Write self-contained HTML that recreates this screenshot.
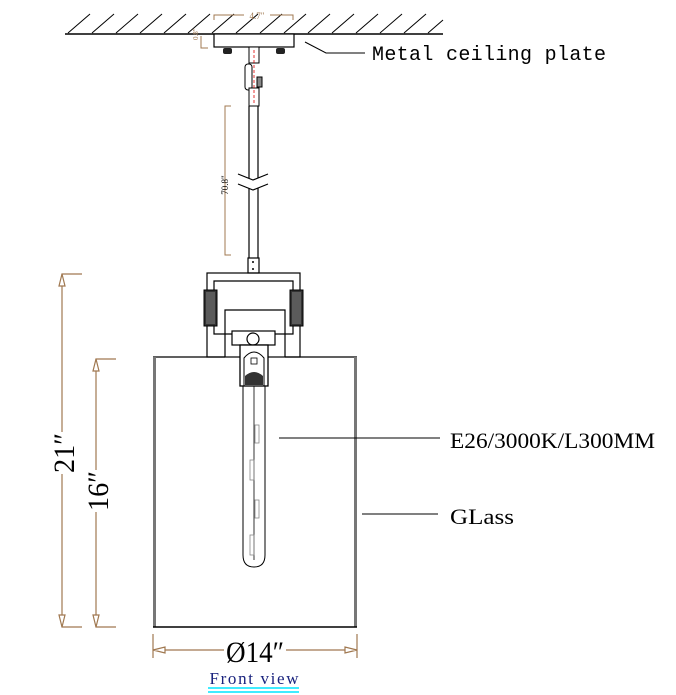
<!DOCTYPE html>
<html><head><meta charset="utf-8"><style>
html,body{margin:0;padding:0;background:#fff;width:676px;height:695px;overflow:hidden}
svg{display:block}
</style></head><body>
<svg width="676" height="695" viewBox="0 0 676 695" xmlns="http://www.w3.org/2000/svg" font-family="Liberation Serif, serif">
<line x1="65" y1="34" x2="443" y2="34" stroke="#000" stroke-width="1.5"/>
<g stroke="#000" stroke-width="1">
<line x1="68" y1="33" x2="90" y2="14"/><line x1="92" y1="33" x2="114" y2="14"/><line x1="116" y1="33" x2="138" y2="14"/>
<line x1="140" y1="33" x2="162" y2="14"/><line x1="164" y1="33" x2="186" y2="14"/><line x1="188" y1="33" x2="210" y2="14"/>
<line x1="212" y1="33" x2="234" y2="14"/><line x1="236" y1="33" x2="258" y2="14"/><line x1="260" y1="33" x2="282" y2="14"/>
<line x1="284" y1="33" x2="306" y2="14"/><line x1="308" y1="33" x2="330" y2="14"/><line x1="332" y1="33" x2="354" y2="14"/>
<line x1="356" y1="33" x2="378" y2="14"/><line x1="380" y1="33" x2="402" y2="14"/><line x1="404" y1="33" x2="426" y2="14"/>
<line x1="428" y1="33" x2="443" y2="20"/>
</g>
<g stroke="#a07850" stroke-width="1" fill="none">
<path d="M214 20 V15 H244 M270 15 H293 V20"/>
<path d="M201 36 V48 H208"/>
</g>
<text x="257" y="19" font-size="9" fill="#a07850" text-anchor="middle">4.7"</text>
<text x="198" y="40" font-size="7" fill="#a07850" transform="rotate(-90 198 40)">0.8"</text>
<rect x="214" y="34" width="80" height="13" fill="#fff" stroke="#000" stroke-width="1.2"/>
<rect x="223" y="48" width="9" height="6" rx="2" fill="#222"/>
<rect x="276" y="48" width="9" height="6" rx="2" fill="#222"/>
<path d="M305 42 L326 53 H365" stroke="#000" fill="none" stroke-width="1"/>
<text x="372" y="60" font-family="Liberation Mono, monospace" font-size="20" textLength="234" fill="#000">Metal ceiling plate</text>
<g stroke="#000" fill="#fff" stroke-width="1">
<rect x="249" y="47" width="10" height="16"/>
<rect x="245" y="64" width="7" height="26" rx="3"/>
<rect x="257" y="77" width="5" height="10" fill="#888"/>
<rect x="249" y="88" width="10" height="18"/>
</g>
<line x1="254" y1="50" x2="254" y2="104" stroke="#d00" stroke-width="0.8" stroke-dasharray="3 2"/>
<g stroke="#000" stroke-width="1.2" fill="none">
<line x1="249" y1="106" x2="249" y2="178"/><line x1="258" y1="106" x2="258" y2="178"/>
<line x1="249" y1="188" x2="249" y2="260"/><line x1="258" y1="188" x2="258" y2="260"/>
<path d="M238 174 L253 180 L268 174 M238 184 L253 190 L268 184"/>
<rect x="248" y="258" width="11" height="15" fill="#fff"/>
</g>
<circle cx="253" cy="262" r="1" fill="#000"/><circle cx="253" cy="269" r="1" fill="#000"/>
<path d="M231 106 H225 V255 H231" stroke="#a07850" fill="none"/>
<text x="228" y="185" font-size="9" fill="#000" text-anchor="middle" transform="rotate(-90 228 185)">70.8"</text>
<g stroke="#000" stroke-width="1.2" fill="none">
<rect x="207" y="273" width="93" height="84"/>
<path d="M214 290 V281 H293 V290 M214 326 V334 H232 M293 326 V334 H275"/>
<path d="M225 357 V310 H285 V357"/>
</g>
<g fill="#333" stroke="#000">
<rect x="204" y="290" width="13" height="36"/>
<rect x="290" y="290" width="13" height="36"/>
</g>
<g fill="#999"><rect x="206" y="292" width="9" height="32" opacity="0.4"/><rect x="292" y="292" width="9" height="32" opacity="0.4"/></g>
<rect x="232" y="331" width="43" height="14" fill="#fff" stroke="#000" stroke-width="1.2"/>
<circle cx="253" cy="339" r="6" fill="#fff" stroke="#000" stroke-width="1.2"/>
<path d="M153 357 H225 M285 357 H357" stroke="#000" stroke-width="1.2"/>
<rect x="153" y="357" width="3" height="270" fill="#777"/>
<rect x="354" y="357" width="3" height="270" fill="#777"/>
<line x1="153" y1="627" x2="357" y2="627" stroke="#000" stroke-width="1.5"/>
<rect x="240" y="345" width="28" height="41" fill="#fff" stroke="#000" stroke-width="1.3"/>
<path d="M244 386 V358 Q254 346 264 358 V386" fill="none" stroke="#000"/>
<rect x="251" y="358" width="6" height="6" fill="#fff" stroke="#000" stroke-width="0.8"/>
<path d="M245 385 V376 Q254 368 263 376 V385 Z" fill="#333"/>
<path d="M243 386 V555 Q243 567 254 567 Q265 567 265 555 V386" fill="none" stroke="#000" stroke-width="1"/>
<line x1="254" y1="386" x2="254" y2="560" stroke="#000" stroke-width="0.8"/>
<g stroke="#888" fill="none" stroke-width="0.8">
<rect x="255" y="425" width="4" height="18"/><rect x="250" y="460" width="4" height="20"/>
<rect x="255" y="500" width="4" height="18"/><rect x="250" y="535" width="4" height="20"/>
</g>
<line x1="279" y1="438" x2="440" y2="438" stroke="#000"/>
<text x="450" y="448" font-size="22" textLength="205" lengthAdjust="spacingAndGlyphs" fill="#000">E26/3000K/L300MM</text>
<line x1="362" y1="514" x2="438" y2="514" stroke="#000"/>
<text x="450" y="524" font-size="22" textLength="64" lengthAdjust="spacingAndGlyphs" fill="#000">GLass</text>
<g stroke="#a07850" stroke-width="1.2" fill="none">
<path d="M82 274 H62 V432 M62 474 V627 H82"/>
<path d="M116 359 H96 V470 M96 512 V627 H116"/>
<path d="M153 634 V658 M357 634 V658 M153 650 H224 M286 650 H357"/>
<path d="M62 274 L59 286 H65 Z M62 627 L59 615 H65 Z M96 359 L93 371 H99 Z M96 627 L93 615 H99 Z M153 650 L165 647 V653 Z M357 650 L345 647 V653 Z" fill="#fff"/>
</g>
<text x="74" y="453" font-size="30" text-anchor="middle" textLength="40" lengthAdjust="spacingAndGlyphs" transform="rotate(-90 74 453)">21″</text>
<text x="108" y="491" font-size="30" text-anchor="middle" textLength="40" lengthAdjust="spacingAndGlyphs" transform="rotate(-90 108 491)">16″</text>
<text x="255" y="662" font-size="30" text-anchor="middle" textLength="58" lengthAdjust="spacingAndGlyphs">Ø14″</text>
<text x="254" y="684" font-family="Liberation Serif, serif" font-size="17" text-anchor="middle" textLength="89" fill="#1a237e">Front view</text>
<line x1="208" y1="688" x2="299" y2="688" stroke="#00e5ff" stroke-width="1.5"/>
<line x1="208" y1="692" x2="299" y2="692" stroke="#00e5ff" stroke-width="1.5"/>
</svg>
</body></html>
